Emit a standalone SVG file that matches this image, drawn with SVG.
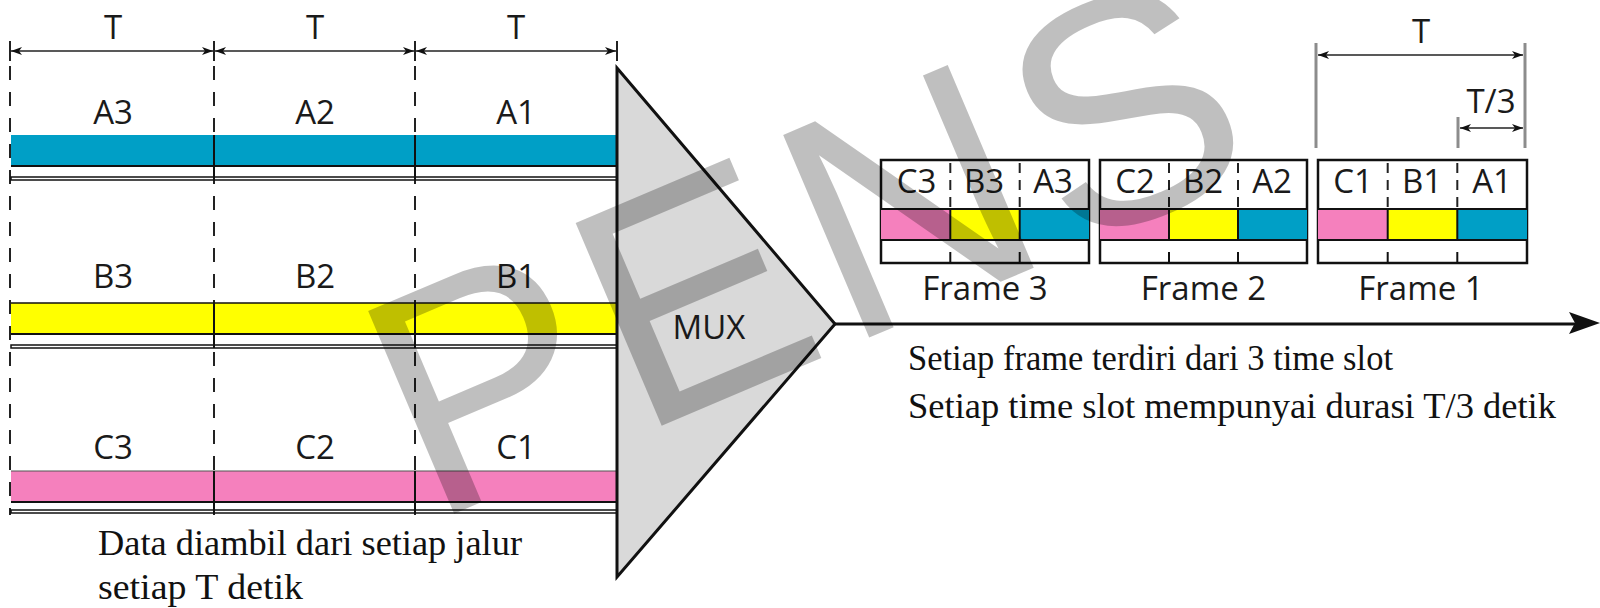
<svg xmlns="http://www.w3.org/2000/svg" width="1600" height="608" viewBox="0 0 1600 608">
<defs>
<style>
.lbl{font-family:"Open Sans","Noto Sans","DejaVu Sans",sans-serif;font-size:33px;fill:#1a1a1a;text-anchor:middle}
.ser{font-family:"Liberation Serif","Times New Roman",serif;font-size:35.5px;fill:#111}
.dash{stroke:#222;stroke-width:2;stroke-dasharray:14 12;fill:none}
.fdash{stroke:#222;stroke-width:2;stroke-dasharray:10 7;fill:none}
.sep{stroke:#111;stroke-width:2}
.dim{stroke:#222;stroke-width:1.6;fill:none}
.tick{stroke:#222;stroke-width:2}
.gtick{stroke:#8c8c8c;stroke-width:3}
.box{fill:#fff;stroke:#111;stroke-width:2.5}
.dbl{fill:#fff;stroke:#111;stroke-width:1.5}
.blue{fill:#009fc6}
.yel{fill:#ffff00}
.pink{fill:#f580bd}
</style>
<marker id="ah" markerUnits="userSpaceOnUse" markerWidth="12" markerHeight="9" refX="11" refY="4" orient="auto-start-reverse" viewBox="0 0 12 8">
<path d="M0,0 L11,4 L0,8 L3,4 z" fill="#111"/>
</marker>
</defs>
<rect width="1600" height="608" fill="#fff"/>

<!-- time dimension (inputs) -->
<g id="input-dimensions">
<line class="tick" x1="10" y1="41" x2="10" y2="61"/>
<line class="tick" x1="214" y1="41" x2="214" y2="61"/>
<line class="tick" x1="415" y1="41" x2="415" y2="61"/>
<line class="tick" x1="617" y1="41" x2="617" y2="61"/>
<line class="dim" x1="11" y1="51" x2="213" y2="51" marker-start="url(#ah)" marker-end="url(#ah)"/>
<line class="dim" x1="215" y1="51" x2="414" y2="51" marker-start="url(#ah)" marker-end="url(#ah)"/>
<line class="dim" x1="416" y1="51" x2="616" y2="51" marker-start="url(#ah)" marker-end="url(#ah)"/>
<text class="lbl" x="113" y="39">T</text>
<text class="lbl" x="315" y="39">T</text>
<text class="lbl" x="516" y="39">T</text>
<line class="dash" x1="10" y1="66" x2="10" y2="515"/>
<line class="dash" x1="214" y1="66" x2="214" y2="515"/>
<line class="dash" x1="415" y1="66" x2="415" y2="515"/>
</g>

<g id="lane-A">
<rect class="blue" x="11" y="135" width="606" height="31"/>
<line x1="11" y1="166" x2="617" y2="166" stroke="#111" stroke-width="2"/>
<rect class="dbl" x="11" y="177" width="606" height="3"/>
<line class="sep" x1="214" y1="135" x2="214" y2="180"/>
<line class="sep" x1="415" y1="135" x2="415" y2="180"/>
<text class="lbl" x="113" y="124">A3</text>
<text class="lbl" x="315" y="124">A2</text>
<text class="lbl" x="516" y="124">A1</text>
</g>

<g id="lane-B">
<rect class="yel" x="11" y="303" width="606" height="31"/>
<line x1="11" y1="303" x2="617" y2="303" stroke="#111" stroke-width="1.5"/>
<line x1="11" y1="334" x2="617" y2="334" stroke="#111" stroke-width="2"/>
<rect class="dbl" x="11" y="345" width="606" height="3"/>
<line class="sep" x1="214" y1="303" x2="214" y2="348"/>
<line class="sep" x1="415" y1="303" x2="415" y2="348"/>
<text class="lbl" x="113" y="288">B3</text>
<text class="lbl" x="315" y="288">B2</text>
<text class="lbl" x="516" y="288">B1</text>
</g>

<g id="lane-C">
<rect class="pink" x="11" y="471" width="606" height="31"/>
<line x1="11" y1="471" x2="617" y2="471" stroke="#555" stroke-width="1.2"/>
<line x1="11" y1="502" x2="617" y2="502" stroke="#111" stroke-width="2"/>
<rect class="dbl" x="11" y="510" width="606" height="3"/>
<line class="sep" x1="214" y1="471" x2="214" y2="513"/>
<line class="sep" x1="415" y1="471" x2="415" y2="513"/>
<text class="lbl" x="113" y="459">C3</text>
<text class="lbl" x="315" y="459">C2</text>
<text class="lbl" x="516" y="459">C1</text>
</g>

<g id="mux">
<polygon points="617,68 835,324 617,577" fill="#d9d9d9" stroke="#111" stroke-width="3"/>
<text class="lbl" x="709" y="339">MUX</text>
</g>

<g id="connectors">
<line x1="835" y1="324" x2="1576" y2="324" stroke="#111" stroke-width="3"/>
<polygon points="1569,312 1600,323 1569,334 1575,323" fill="#111"/>
</g>

<g id="frame-3">
<rect class="box" x="881" y="160" width="208" height="103"/>
<rect class="pink" x="881" y="209" width="69.3" height="31"/>
<rect class="yel" x="950.3" y="209" width="69.4" height="31"/>
<rect class="blue" x="1019.7" y="209" width="69.3" height="31"/>
<line class="sep" x1="881" y1="209" x2="1089" y2="209"/>
<line class="sep" x1="881" y1="240" x2="1089" y2="240"/>
<line class="sep" x1="950.3" y1="209" x2="950.3" y2="240"/>
<line class="sep" x1="1019.7" y1="209" x2="1019.7" y2="240"/>
<line class="fdash" x1="950.3" y1="163" x2="950.3" y2="209"/>
<line class="fdash" x1="1019.7" y1="163" x2="1019.7" y2="209"/>
<line class="sep" x1="950.3" y1="252" x2="950.3" y2="263"/>
<line class="sep" x1="1019.7" y1="252" x2="1019.7" y2="263"/>
<text class="lbl" x="916.5" y="193">C3</text>
<text class="lbl" x="984" y="193">B3</text>
<text class="lbl" x="1053" y="193">A3</text>
<text class="lbl" x="985" y="300">Frame 3</text>
</g>

<g id="frame-2">
<rect class="box" x="1100" y="160" width="207" height="103"/>
<rect class="pink" x="1100" y="209" width="69" height="31"/>
<rect class="yel" x="1169" y="209" width="69" height="31"/>
<rect class="blue" x="1238" y="209" width="69" height="31"/>
<line class="sep" x1="1100" y1="209" x2="1307" y2="209"/>
<line class="sep" x1="1100" y1="240" x2="1307" y2="240"/>
<line class="sep" x1="1169" y1="209" x2="1169" y2="240"/>
<line class="sep" x1="1238" y1="209" x2="1238" y2="240"/>
<line class="fdash" x1="1169" y1="163" x2="1169" y2="209"/>
<line class="fdash" x1="1238" y1="163" x2="1238" y2="209"/>
<line class="sep" x1="1169" y1="252" x2="1169" y2="263"/>
<line class="sep" x1="1238" y1="252" x2="1238" y2="263"/>
<text class="lbl" x="1135" y="193">C2</text>
<text class="lbl" x="1203" y="193">B2</text>
<text class="lbl" x="1272" y="193">A2</text>
<text class="lbl" x="1203.5" y="300">Frame 2</text>
</g>

<g id="frame-1">
<rect class="box" x="1318" y="160" width="209" height="103"/>
<rect class="pink" x="1318" y="209" width="69.7" height="31"/>
<rect class="yel" x="1387.7" y="209" width="69.6" height="31"/>
<rect class="blue" x="1457.3" y="209" width="69.7" height="31"/>
<line class="sep" x1="1318" y1="209" x2="1527" y2="209"/>
<line class="sep" x1="1318" y1="240" x2="1527" y2="240"/>
<line class="sep" x1="1387.7" y1="209" x2="1387.7" y2="240"/>
<line class="sep" x1="1457.3" y1="209" x2="1457.3" y2="240"/>
<line class="fdash" x1="1387.7" y1="163" x2="1387.7" y2="209"/>
<line class="fdash" x1="1457.3" y1="163" x2="1457.3" y2="209"/>
<line class="sep" x1="1387.7" y1="252" x2="1387.7" y2="263"/>
<line class="sep" x1="1457.3" y1="252" x2="1457.3" y2="263"/>
<text class="lbl" x="1353" y="193">C1</text>
<text class="lbl" x="1422" y="193">B1</text>
<text class="lbl" x="1492" y="193">A1</text>
<text class="lbl" x="1421" y="300">Frame 1</text>
</g>

<g id="frame-dimensions">
<line class="gtick" x1="1316" y1="43" x2="1316" y2="148"/>
<line class="gtick" x1="1525" y1="43" x2="1525" y2="148"/>
<line class="gtick" x1="1458" y1="117" x2="1458" y2="148"/>
<line class="dim" x1="1318" y1="55" x2="1523" y2="55" marker-start="url(#ah)" marker-end="url(#ah)"/>
<line class="dim" x1="1460" y1="128" x2="1523" y2="128" marker-start="url(#ah)" marker-end="url(#ah)"/>
<text class="lbl" x="1421" y="43">T</text>
<text class="lbl" x="1491" y="113">T/3</text>
</g>

<g id="notes">
<text class="ser" x="98" y="555" textLength="424" lengthAdjust="spacingAndGlyphs">Data diambil dari setiap jalur</text>
<text class="ser" x="98" y="599" textLength="205" lengthAdjust="spacingAndGlyphs">setiap T detik</text>
<text class="ser" x="908" y="370" textLength="485" lengthAdjust="spacingAndGlyphs">Setiap frame terdiri dari 3 time slot</text>
<text class="ser" x="908" y="418" textLength="648" lengthAdjust="spacingAndGlyphs">Setiap time slot mempunyai durasi T/3 detik</text>
</g>

<g id="watermark">
<text transform="translate(430,524) rotate(-23)" font-family="'Liberation Sans',Arial,sans-serif" font-size="320" letter-spacing="12" fill="#000" fill-opacity="0.25">PENS</text>
</g>
</svg>
